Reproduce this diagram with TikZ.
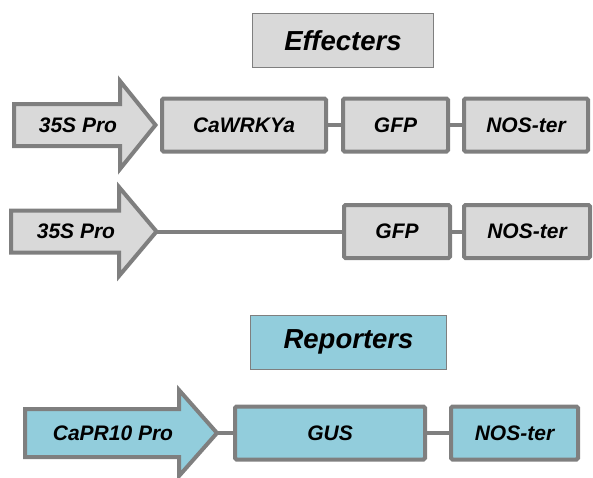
\documentclass[tikz,border=0pt]{standalone}
\usepackage{fontspec}
\setmainfont{Liberation Sans}
\definecolor{boxgray}{HTML}{D9D9D9}
\definecolor{edgegray}{HTML}{7F7F7F}
\definecolor{boxblue}{HTML}{92CDDC}

\begin{document}
\begin{tikzpicture}[x=1pt,y=-1pt,
	part/.style={draw=edgegray,line width=4pt,rounded corners=1.5pt,minimum height=53pt,inner sep=0pt,font=\fontsize{21}{25}\selectfont\bfseries\itshape},
	title/.style={draw=edgegray,line width=1pt,minimum height=54pt,inner sep=0pt,font=\fontsize{27.5}{32}\selectfont\bfseries\itshape},
	promo/.style={draw=edgegray,line width=4pt,line join=miter},
	protext/.style={inner sep=0pt,font=\fontsize{21}{25}\selectfont\bfseries\itshape},
	link/.style={draw=edgegray,line width=4pt}
	]

	\useasboundingbox (0,0) rectangle (593,477);

	% effecters
	\node[title,fill=boxgray,minimum width=181pt] (eff) at (343,40.5) {Effecters};

	\draw[promo,fill=boxgray] (14,104) -- (120,104) -- (120,81) -- (155.5,125) coordinate (tip1) -- (120,169) -- (120,146) -- (14,146) -- cycle;
	\node[protext] (pro1) at (78,125) {35S Pro};
	\node[part,fill=boxgray,minimum width=164pt] (wrky) at (244,125) {CaWRKYa};
	\node[part,fill=boxgray,minimum width=105pt] (gfp1) at (395.5,125) {GFP};
	\node[part,fill=boxgray,minimum width=124pt] (nos1) at (526,125) {NOS-ter};

	\draw[promo,fill=boxgray] (11,210.5) -- (119,210.5) -- (119,187) -- (156.5,231.5) coordinate (tip2) -- (119,276) -- (119,252.5) -- (11,252.5) -- cycle;
	\node[protext] (pro2) at (76,231.5) {35S Pro};
	\node[part,fill=boxgray,minimum width=106pt] (gfp2) at (397,231.5) {GFP};
	\node[part,fill=boxgray,minimum width=126pt] (nos2) at (527,231.5) {NOS-ter};

	% reporters
	\node[title,fill=boxblue,minimum width=196pt] (rep) at (348.5,342) {Reporters};

	\draw[promo,fill=boxblue] (25,409) -- (179,409) -- (179,390) -- (217,433) coordinate (tip3) -- (179,476) -- (179,457) -- (25,457) -- cycle;
	\node[protext] (pro3) at (113,433) {CaPR10 Pro};
	\node[part,fill=boxblue,minimum width=190pt] (gus) at (330,433) {GUS};
	\node[part,fill=boxblue,minimum width=127pt] (nos3) at (514.5,433) {NOS-ter};

	\draw[link] (wrky) -- (gfp1);
	\draw[link] (gfp1) -- (nos1);
	\draw[link] (tip2) -- (gfp2);
	\draw[link] (gfp2) -- (nos2);
	\draw[link] (tip3) -- (gus);
	\draw[link] (gus) -- (nos3);

\end{tikzpicture}
\end{document}
